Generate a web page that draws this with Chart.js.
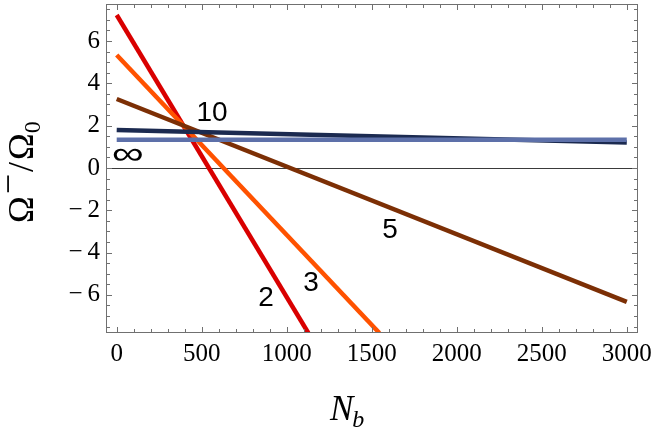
<!DOCTYPE html>
<html>
<head>
<meta charset="utf-8">
<script src="https://cdn.jsdelivr.net/npm/chart.js@4.4.1/dist/chart.umd.min.js"></script>
<style>
  html, body { margin: 0; padding: 0; background: #fff; }
  #wrap { width: 663px; height: 439px; }
</style>
</head>
<body>
<div id="wrap"><canvas id="chart" width="663" height="439"></canvas></div>
<script>
// Cada curva es una recta: se dan sus dos extremos
var seriesNames = ['2', '3', '5', '10', '∞'];
var nb2 = [0, 1127],   omega2 = [7.23, -7.8];
var nb3 = [0, 1545],   omega3 = [5.34, -7.8];
var nb5 = [0, 3000],   omega5 = [3.26, -6.33];
var nb10 = [0, 3000],  omega10 = [1.80, 1.20];
var nbInf = [0, 3000], omegaInf = [1.33, 1.33];

// Ticks de los ejes
var xTicks = [0, 500, 1000, 1500, 2000, 2500, 3000];
var yTicks = [-6, -4, -2, 0, 2, 4, 6];

// Etiquetas de cada curva (en coordenadas de datos)
var labelNb = [878, 1143, 1608, 561, 66];
var labelOmega = [-6.10, -5.39, -2.88, 2.65, 0.61];

var colors = ['#d90000', '#ff5200', '#7c2f05', '#1b2a50', '#5d70a9'];

function points(xs, ys) {
  return xs.map(function(x, i) { return { x: x, y: ys[i] }; });
}
var allX = [nb2, nb3, nb5, nb10, nbInf];
var allY = [omega2, omega3, omega5, omega10, omegaInf];

var datasets = seriesNames.map(function(name, i) {
  return {
    label: name,
    data: points(allX[i], allY[i]),
    borderColor: colors[i],
    backgroundColor: colors[i],
    borderWidth: 4.5,
    pointRadius: 0,
    showLine: true,
    fill: false,
    clip: 0,
    order: seriesNames.length - i // el último se dibuja encima
  };
});

var serif = '"Liberation Serif", "Times New Roman", serif';
var sans = '"Liberation Sans", Arial, sans-serif';

// Marco estilo Mathematica con ticks hacia dentro en los cuatro lados
var frameTicks = {
  id: 'frameTicks',
  beforeDatasetsDraw: function(chart) {
    var ctx = chart.ctx, a = chart.chartArea, y0 = chart.scales.y.getPixelForValue(0);
    ctx.save();
    ctx.strokeStyle = '#3a3a3a';
    ctx.lineWidth = 1;
    ctx.beginPath();
    ctx.moveTo(a.left, Math.round(y0) + 0.5);
    ctx.lineTo(a.right, Math.round(y0) + 0.5);
    ctx.stroke();
    ctx.restore();
  },
  afterDraw: function(chart) {
    var ctx = chart.ctx, a = chart.chartArea;
    var sx = chart.scales.x, sy = chart.scales.y;
    ctx.save();
    ctx.strokeStyle = '#707070';
    ctx.lineWidth = 1;
    ctx.strokeRect(Math.round(a.left) + 0.5, Math.round(a.top) + 0.5,
      Math.round(a.right - a.left) - 1, Math.round(a.bottom - a.top) - 1);
    ctx.beginPath();
    for (var v = 0; v <= 3000; v += 100) {
      var px = Math.round(sx.getPixelForValue(v)) + 0.5;
      var len = (v % 500 === 0) ? 6 : 4;
      ctx.moveTo(px, a.bottom); ctx.lineTo(px, a.bottom - len);
      ctx.moveTo(px, a.top); ctx.lineTo(px, a.top + len);
    }
    for (var w = -7.5; w <= 7.5; w += 0.5) {
      var py = Math.round(sy.getPixelForValue(w)) + 0.5;
      var l2 = (Math.abs(w % 2) < 1e-9) ? 6 : 4;
      ctx.moveTo(a.left, py); ctx.lineTo(a.left + l2, py);
      ctx.moveTo(a.right, py); ctx.lineTo(a.right - l2, py);
    }
    ctx.stroke();

    // etiquetas de las curvas
    ctx.fillStyle = '#000';
    ctx.textAlign = 'center';
    ctx.textBaseline = 'middle';
    seriesNames.forEach(function(name, i) {
      var lx = sx.getPixelForValue(labelNb[i]), ly = sy.getPixelForValue(labelOmega[i]);
      if (name === '∞') {
        // el ∞ del original es ancho
        ctx.save();
        ctx.translate(lx, ly);
        ctx.scale(1.4, 1);
        ctx.font = '32px ' + sans;
        ctx.fillText(name, 0, 0);
        ctx.restore();
      } else {
        ctx.font = '28px ' + sans;
        ctx.fillText(name, lx, ly + 1);
      }
    });

    // título del eje x: N_b
    ctx.textAlign = 'left';
    ctx.textBaseline = 'alphabetic';
    ctx.font = 'italic 35px ' + serif;
    var nW = ctx.measureText('N').width;
    ctx.fillText('N', 330, 420);
    ctx.font = 'italic 24px ' + serif;
    ctx.fillText('b', 330 + nW - 1, 427);

    // título del eje y: Ω−/Ω0
    ctx.translate(33, 223);
    ctx.rotate(-Math.PI / 2);
    ctx.font = '36px ' + serif;
    var x = 0;
    ctx.fillText('Ω', x, 0); x += ctx.measureText('Ω').width + 2;
    ctx.fillText('\u2212', x, -13); x += ctx.measureText('\u2212').width + 2;
    ctx.fillText('/', x, 0); x += ctx.measureText('/').width + 2;
    ctx.fillText('Ω', x, 0); x += ctx.measureText('Ω').width;
    ctx.font = '24px ' + serif;
    ctx.fillText('0', x, 7);
    ctx.restore();
  }
};

function fmt(v) {
  return v < 0 ? '\u2212\u2009' + Math.abs(v) : String(v);
}

var ctx = document.getElementById('chart').getContext('2d');
var chart = new Chart(ctx, {
  type: 'scatter',
  data: { datasets: datasets },
  options: {
    responsive: false,
    animation: false,
    layout: { padding: { top: 4, right: 25, left: 0, bottom: 0 } },
    plugins: { legend: { display: false }, tooltip: { enabled: false } },
    scales: {
      x: {
        type: 'linear',
        min: -63,
        max: 3066,
        grid: { display: false, drawTicks: false },
        border: { display: false },
        afterBuildTicks: function(s) { s.ticks = xTicks.map(function(v) { return { value: v }; }); },
        afterFit: function(s) { s.height = 106; s.paddingLeft = 0; s.paddingRight = 0; },
        ticks: {
          autoSkip: false,
          maxRotation: 0,
          padding: 6,
          color: '#000',
          font: { family: serif, size: 25 },
          callback: function(v) { return fmt(v); }
        }
      },
      y: {
        type: 'linear',
        min: -7.8,
        max: 7.75,
        grid: { display: false, drawTicks: false },
        border: { display: false },
        afterBuildTicks: function(s) { s.ticks = yTicks.map(function(v) { return { value: v }; }); },
        afterFit: function(s) { s.width = 106; s.paddingTop = 0; s.paddingBottom = 0; },
        ticks: {
          autoSkip: false,
          padding: 6,
          color: '#000',
          font: { family: serif, size: 25 },
          callback: function(v) { return fmt(v); }
        }
      }
    }
  },
  plugins: [frameTicks]
});
</script>
</body>
</html>
